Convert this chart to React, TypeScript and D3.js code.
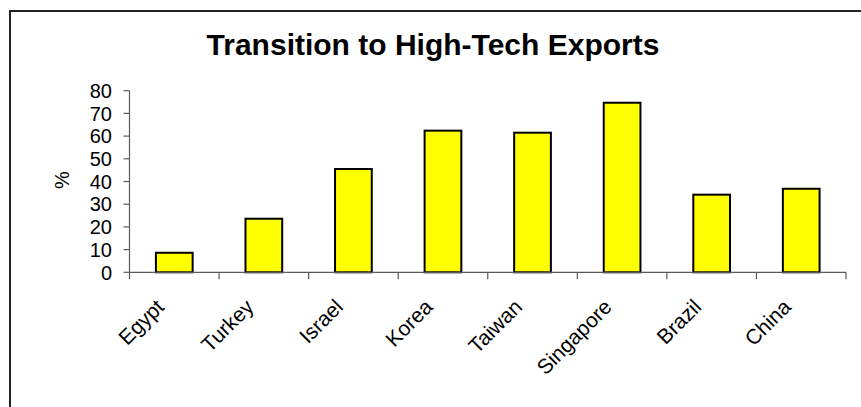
import React from "react";
import * as d3 from "d3";

const categories = ["Egypt", "Turkey", "Israel", "Korea", "Taiwan", "Singapore", "Brazil", "China"];
const values = [8.6, 23.6, 45.5, 62.4, 61.5, 74.7, 34.2, 36.8];
const yTicks = [0, 10, 20, 30, 40, 50, 60, 70, 80];
const title = "Transition to High-Tech Exports";
const yLabel = "%";

const W = 861;
const H = 407;
const FONT = "Arial, 'Liberation Sans', Helvetica, sans-serif";

export default function App() {
  const x = d3.scaleBand<string>().domain(categories).range([129.5, 846]).padding(0);
  const y = d3.scaleLinear().domain([0, 80]).range([272.3, 90.7]);
  const bw = x.bandwidth();
  const barW = bw * 0.41;
  const axisColor = "#5a5a5a";
  const y0 = y(0);

  return (
    <svg
      width={W}
      height={H}
      style={{ position: "absolute", left: 0, top: 0, background: "#fff" }}
      fontFamily={FONT}
    >
      <rect x={0} y={0} width={W} height={H} fill="#fff" />
      <rect x={10} y={11} width={950} height={500} fill="none" stroke="#222" strokeWidth={2} />
      <text x={433} y={55} textAnchor="middle" fontSize={30} fontWeight="bold" fill="#000">
        {title}
      </text>
      <text
        transform={`translate(61.7,180) rotate(-90)`}
        textAnchor="middle"
        dominantBaseline="central"
        fontSize={20}
        fill="#000"
      >
        {yLabel}
      </text>
      {/* bars */}
      {categories.map((c, i) => {
        const cx = (x(c) as number) + bw / 2;
        return (
          <rect
            key={c}
            x={cx - barW / 2}
            y={y(values[i])}
            width={barW}
            height={y0 - y(values[i])}
            fill="#ffff00"
            stroke="#000"
            strokeWidth={2}
          />
        );
      })}
      {/* y axis */}
      <line x1={129.5} x2={129.5} y1={y(80)} y2={y0} stroke={axisColor} strokeWidth={1.2} />
      {yTicks.map((t) => (
        <g key={t}>
          <line x1={123.5} x2={129.5} y1={y(t)} y2={y(t)} stroke={axisColor} strokeWidth={1.2} />
          <text x={112} y={y(t)} textAnchor="end" dy="0.36em" fontSize={20} fill="#000">
            {t}
          </text>
        </g>
      ))}
      {/* x axis */}
      <line x1={129.5} x2={846} y1={y0} y2={y0} stroke={axisColor} strokeWidth={1.2} />
      {[...categories.map((c) => x(c) as number), 846].map((px, i) => (
        <line key={i} x1={px} x2={px} y1={y0} y2={y0 + 7} stroke={axisColor} strokeWidth={1.2} />
      ))}
      {categories.map((c) => {
        const cx = (x(c) as number) + bw / 2;
        return (
          <text
            key={c}
            transform={`translate(${cx - 9},${y0 + 36}) rotate(-45)`}
            textAnchor="end"
            fontSize={21}
            fill="#000"
          >
            {c}
          </text>
        );
      })}
    </svg>
  );
}
